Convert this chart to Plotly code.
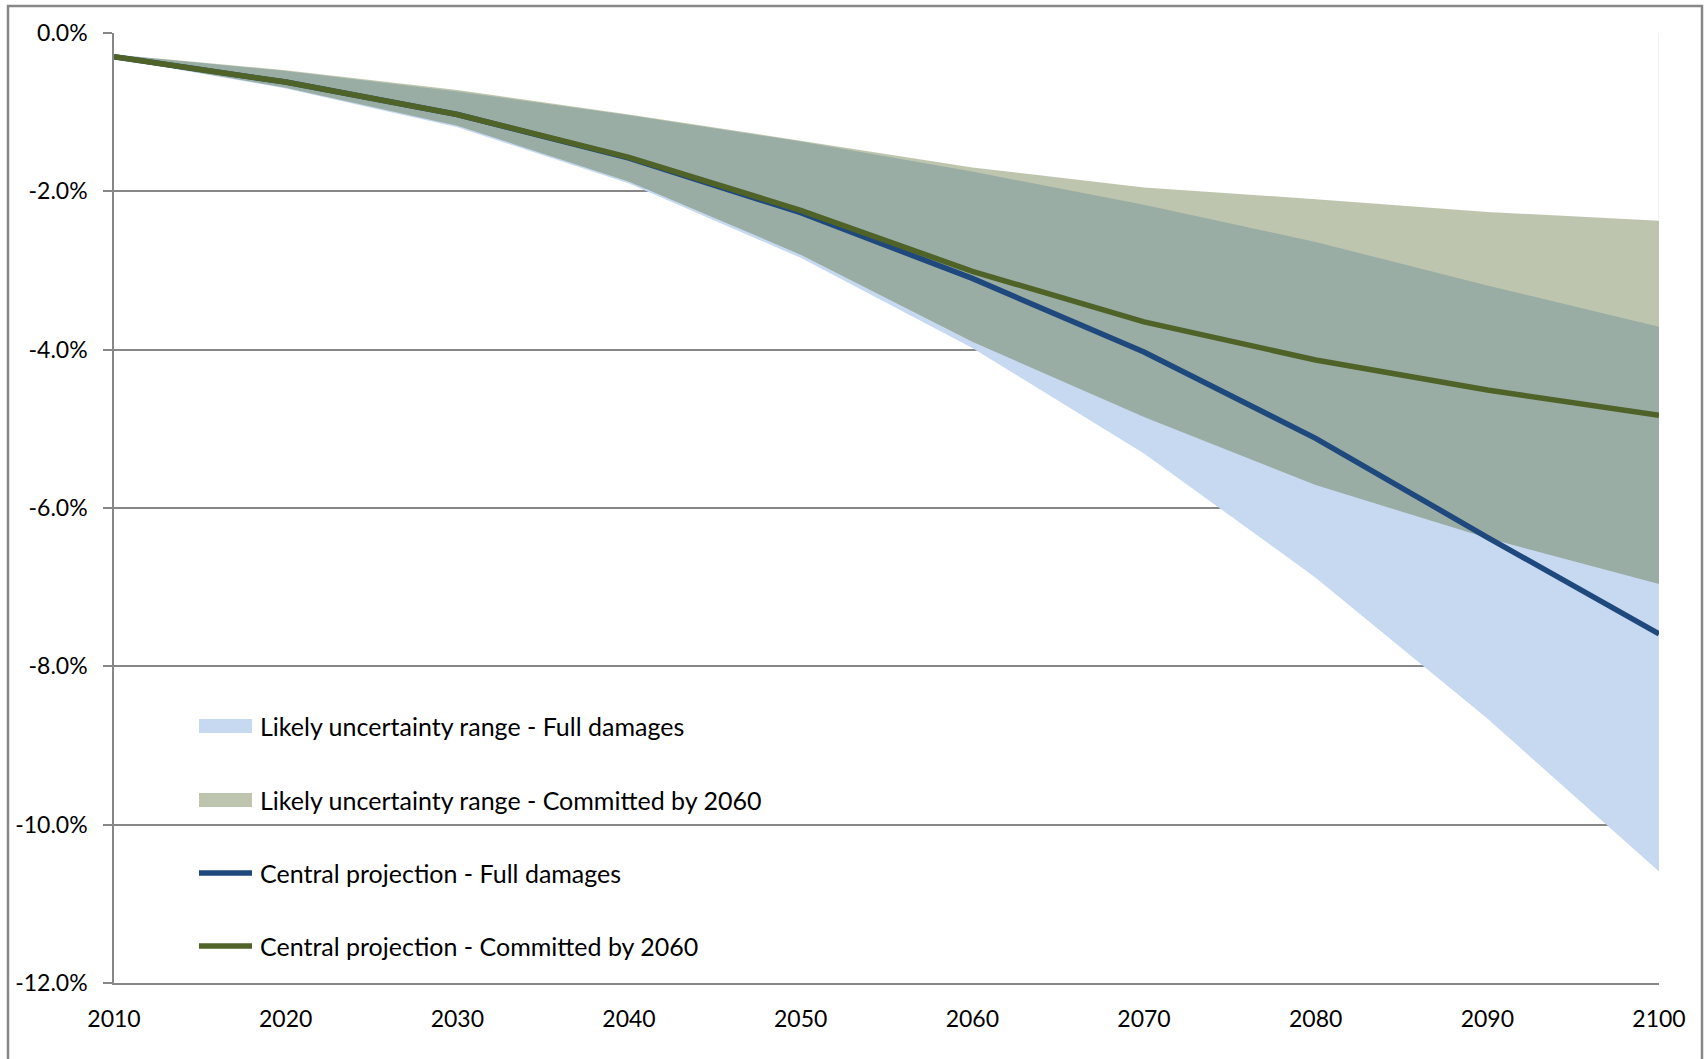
import plotly.graph_objects as go

# Projected change (%), by decade
years = [2010, 2020, 2030, 2040, 2050, 2060, 2070, 2080, 2090, 2100]

full_central = [-0.30, -0.62, -1.03, -1.58, -2.27, -3.10, -4.03, -5.12, -6.37, -7.59]
committed_central = [-0.30, -0.62, -1.03, -1.57, -2.24, -3.01, -3.65, -4.13, -4.51, -4.83]

full_upper = [-0.27, -0.48, -0.74, -1.04, -1.37, -1.75, -2.17, -2.64, -3.19, -3.71]
full_lower = [-0.32, -0.70, -1.19, -1.90, -2.84, -3.98, -5.31, -6.88, -8.66, -10.59]
committed_upper = [-0.27, -0.47, -0.72, -1.03, -1.36, -1.70, -1.95, -2.10, -2.26, -2.37]
committed_lower = [-0.32, -0.69, -1.17, -1.88, -2.80, -3.90, -4.85, -5.71, -6.38, -6.96]

y_ticks = [0, -2, -4, -6, -8, -10, -12]
y_tick_text = ["0.0%", "-2.0%", "-4.0%", "-6.0%", "-8.0%", "-10.0%", "-12.0%"]

legend_labels = [
    "Likely uncertainty range - Full damages",
    "Likely uncertainty range - Committed by 2060",
    "Central projection - Full damages",
    "Central projection - Committed by 2060",
]

FONT = "Lato"
GREY = "#878787"
BLUE_FILL = "#C6D9F1"
OLIVE_FILL = "rgba(79,98,36,0.37)"
OLIVE_KEY = "#BEC5AE"
BLUE_LINE = "#1F497D"
GREEN_LINE = "#4F6228"
LINE_W = 5.5

fig = go.Figure()

# white stacked base from 0 down to the committed band, which hides the
# gridlines behind the area series
fig.add_trace(go.Scatter(x=years, y=committed_lower, mode="lines", line=dict(width=0),
                         fill="tozeroy", fillcolor="white",
                         showlegend=False, hoverinfo="skip"))


def band(lower, upper, fillcolor, name):
    fig.add_trace(go.Scatter(x=years, y=lower, mode="lines", line=dict(width=0),
                             showlegend=False, hoverinfo="skip"))
    fig.add_trace(go.Scatter(x=years, y=upper, mode="lines", line=dict(width=0),
                             fill="tonexty", fillcolor=fillcolor,
                             showlegend=False, name=name))


# likely range - full damages
band(full_lower, full_upper, BLUE_FILL, legend_labels[0])
# likely range - committed by 2060 (translucent over the full-damages band)
band(committed_lower, committed_upper, OLIVE_FILL, legend_labels[1])

# central projections
fig.add_trace(go.Scatter(x=years, y=full_central, mode="lines", showlegend=False,
                         line=dict(color=BLUE_LINE, width=LINE_W),
                         name=legend_labels[2]))
fig.add_trace(go.Scatter(x=years, y=committed_central, mode="lines", showlegend=False,
                         line=dict(color=GREEN_LINE, width=LINE_W),
                         name=legend_labels[3]))

# plot-area geometry in pixels, used to place the key in paper coordinates
L, T, W, H = 114, 33, 1545, 950


def px(xp):
    return (xp - L) / W


def py(yp):
    return (T + H - yp) / H


shapes = [
    # outer chart frame
    dict(type="rect", xref="paper", yref="paper",
         x0=px(8), x1=px(1702), y0=py(1066), y1=py(6),
         line=dict(color=GREY, width=2.5), fillcolor="rgba(0,0,0,0)"),
    # faint edge of the white base series at the last category
    dict(type="line", xref="x", yref="y", x0=years[-1], x1=years[-1],
         y0=0, y1=committed_upper[-1], line=dict(color="#E3E3E3", width=1)),
]
annotations = []

key_rows = [726, 800, 873, 946]
key_x0, key_x1, text_x = 199, 252, 258
key_styles = [("box", BLUE_FILL), ("box", OLIVE_KEY), ("line", BLUE_LINE), ("line", GREEN_LINE)]
for row_y, (kind, color), label in zip(key_rows, key_styles, legend_labels):
    if kind == "box":
        shapes.append(dict(type="rect", xref="paper", yref="paper",
                           x0=px(key_x0), x1=px(key_x1), y0=py(row_y + 7), y1=py(row_y - 7),
                           line=dict(width=0), fillcolor=color))
    else:
        shapes.append(dict(type="line", xref="paper", yref="paper",
                           x0=px(key_x0), x1=px(key_x1), y0=py(row_y), y1=py(row_y),
                           line=dict(color=color, width=LINE_W)))
    annotations.append(dict(text=label, xref="paper", yref="paper",
                            x=px(text_x), y=py(row_y), xanchor="left", yanchor="middle",
                            showarrow=False, font=dict(family=FONT, size=25, color="black")))

fig.update_layout(
    width=1708, height=1059,
    margin=dict(l=L, r=1708 - L - W, t=T, b=1059 - T - H),
    paper_bgcolor="white", plot_bgcolor="white",
    font=dict(family=FONT, size=23, color="black"),
    showlegend=False,
    xaxis=dict(range=[2010, 2100], tickvals=years, ticks="", showgrid=False,
               zeroline=False, showline=True, linecolor=GREY, linewidth=1.5,
               ticklabelstandoff=15),
    xaxis2=dict(range=[2010, 2100], overlaying="x", side="top", tickvals=years,
                ticks="inside", ticklen=9, tickwidth=1.5, tickcolor=GREY,
                showticklabels=False, showgrid=False, zeroline=False,
                showline=True, linecolor=GREY, linewidth=1.5),
    yaxis=dict(range=[-12, 0], tickvals=y_ticks, ticktext=y_tick_text,
               ticks="outside", ticklen=9, tickwidth=1.5, tickcolor=GREY,
               showgrid=True, gridcolor=GREY, gridwidth=1.5, zeroline=False,
               showline=True, linecolor=GREY, linewidth=1.5, ticklabelstandoff=11),
    shapes=shapes,
    annotations=annotations,
)

fig.write_html("out.html")
